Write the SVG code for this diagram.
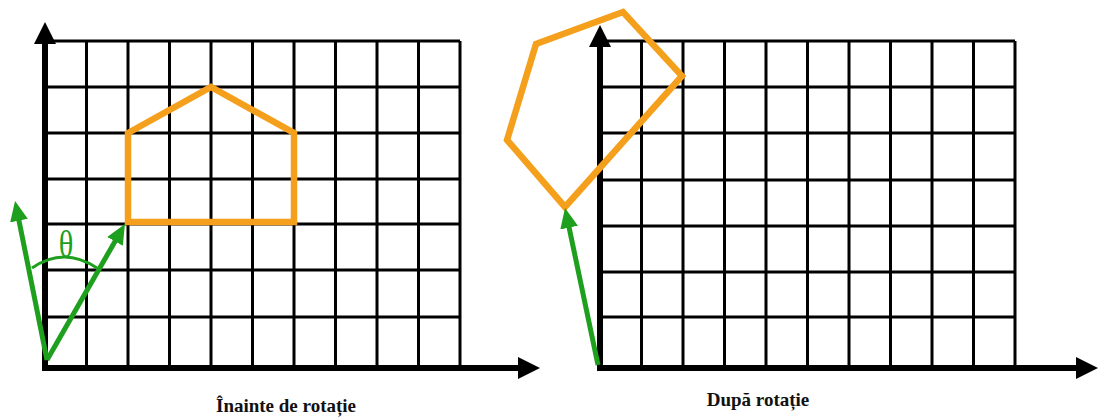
<svg xmlns="http://www.w3.org/2000/svg" width="1099" height="418" viewBox="0 0 1099 418">
<defs>
<style>
.grid{stroke:#000;stroke-width:3;fill:none}
.axis{stroke:#000;stroke-width:6;fill:none}
.shape{stroke:#F5A01C;stroke-width:6.5;fill:none;stroke-linejoin:miter}
.vec{stroke:#1E9F1E;stroke-width:5;fill:none}
.arc{stroke:#1E9F1E;stroke-width:3;fill:none}
.lbl{font-family:"Liberation Serif","Times New Roman",serif;font-weight:bold;font-size:19px;fill:#111;text-anchor:middle}
.theta{font-family:"Liberation Serif","Times New Roman",serif;font-size:38px;fill:#1E9F1E;text-anchor:middle}
</style>
<marker id="ahBlack" viewBox="0 0 22 22" markerWidth="22" markerHeight="22" markerUnits="userSpaceOnUse" refX="2" refY="11" orient="auto">
<path d="M0,0 L22,11 L0,22 z" fill="#000"/>
</marker>
<marker id="ahGreen" viewBox="0 0 20 18" markerWidth="20" markerHeight="18" markerUnits="userSpaceOnUse" refX="4" refY="9" orient="auto">
<path d="M0,0 L20,9 L0,18 z" fill="#1E9F1E"/>
</marker>
</defs>
<rect width="1099" height="418" fill="#fff"/>

<g id="grid-before">
<path class="grid" d="M45,41 H460 M45,87 H460 M45,133 H460 M45,179 H460 M45,224 H460 M45,270 H460 M45,317 H460
M86.5,41 V368 M128,41 V368 M169.5,41 V368 M211,41 V368 M252.5,41 V368 M294,41 V368 M335.5,41 V368 M377,41 V368 M418.5,41 V368 M460,41 V368"/>
</g>
<g id="grid-after">
<path class="grid" d="M600,41 H1015 M600,87 H1015 M600,133 H1015 M600,180 H1015 M600,226 H1015 M600,272 H1015 M600,317 H1015
M641.5,41 V368 M683,41 V368 M724.5,41 V368 M766,41 V368 M807.5,41 V368 M849,41 V368 M890.5,41 V368 M932,41 V368 M973.5,41 V368 M1015,41 V368"/>
</g>

<g id="axes">
<line class="axis" x1="45" y1="371" x2="45" y2="42" marker-end="url(#ahBlack)"/>
<line class="axis" x1="42" y1="368" x2="520" y2="368" marker-end="url(#ahBlack)"/>
<line class="axis" x1="600" y1="371" x2="600" y2="45" marker-end="url(#ahBlack)"/>
<line class="axis" x1="597" y1="368" x2="1078" y2="368" marker-end="url(#ahBlack)"/>
</g>

<g id="shape-before">
<polygon class="shape" points="128,133 211,87 294,133 294,222 128,222"/>
</g>
<g id="shape-after">
<polygon class="shape" points="565,207 507,140 536,44 623,12 682,76"/>
</g>

<g id="connectors">
<line class="vec" x1="47" y1="360" x2="117" y2="237.9" marker-end="url(#ahGreen)"/>
<line class="vec" x1="47" y1="360" x2="18.2" y2="216.7" marker-end="url(#ahGreen)"/>
<line class="vec" x1="598" y1="365" x2="568.3" y2="223.7" marker-end="url(#ahGreen)"/>
<path class="arc" d="M32,268 Q64,246 97,268"/>
</g>

<g id="labels">
<text class="theta" transform="translate(66,257) scale(0.8,1)">θ</text>
<text class="lbl" x="286" y="412">Înainte de rotație</text>
<text class="lbl" x="758" y="406">După rotație</text>
</g>
</svg>
